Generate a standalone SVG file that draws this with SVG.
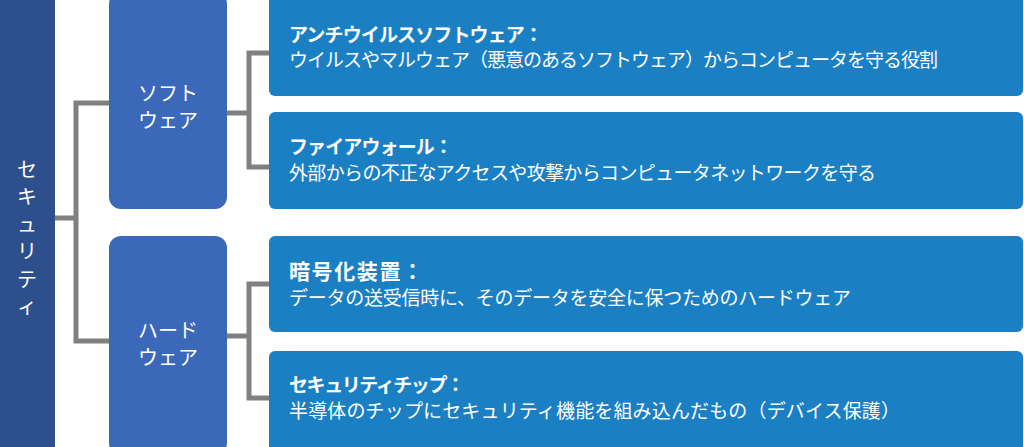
<svg xmlns="http://www.w3.org/2000/svg" width="1024" height="447" viewBox="0 0 1024 447">
<style>
text{font-family:"Noto Sans CJK JP","Noto Sans",sans-serif;fill:#ffffff;}
.root{fill:#2d4f8b;}
.mid{fill:#3b68b9;}
.leaf{fill:#1b7fc4;}
.lbl{font-size:20px;text-anchor:middle;}
.vert{font-size:20px;writing-mode:vertical-rl;text-orientation:upright;letter-spacing:7.5px;font-feature-settings:"vert" 0;}
.ttl{font-size:19px;font-weight:bold;}
.dsc{font-size:19px;}
.con{fill:none;stroke:#808080;stroke-width:5;}
</style>
<rect width="1024" height="447" fill="#ffffff"/>
<g id="connectors">
<path class="con" d="M55 218 H76 M109 103 H76 V341 H109"/>
<path class="con" d="M227 113 H249 M270 53 H249 V167 H270"/>
<path class="con" d="M227 336 H249 M270 284 H249 V398 H270"/>
</g>
<g id="security">
<rect class="root" x="0" y="-8" width="55" height="463" rx="6"/>
<text class="vert" x="27" y="159">セキュリティ</text>
</g>
<g id="software">
<rect class="mid" x="109" y="-8" width="118" height="217" rx="12"/>
<text class="lbl"><tspan x="168" y="101">ソフト</tspan><tspan x="168" y="128">ウェア</tspan></text>
</g>
<g id="hardware">
<rect class="mid" x="109" y="236" width="118" height="219" rx="12"/>
<text class="lbl"><tspan x="168" y="338">ハード</tspan><tspan x="168" y="365">ウェア</tspan></text>
</g>
<g id="antivirus">
<rect class="leaf" x="269" y="-8" width="754" height="104" rx="6"/>
<text class="ttl" x="289" y="42" textLength="254" lengthAdjust="spacing">アンチウイルスソフトウェア：</text>
<text class="dsc" x="289" y="67" textLength="649" lengthAdjust="spacing">ウイルスやマルウェア（悪意のあるソフトウェア）からコンピュータを守る役割</text>
</g>
<g id="firewall">
<rect class="leaf" x="269" y="112" width="754" height="97" rx="6"/>
<text class="ttl" x="289" y="154" textLength="164" lengthAdjust="spacing">ファイアウォール：</text>
<text class="dsc" x="289" y="180" textLength="587" lengthAdjust="spacing">外部からの不正なアクセスや攻撃からコンピュータネットワークを守る</text>
</g>
<g id="encryption">
<rect class="leaf" x="269" y="236" width="754" height="96" rx="6"/>
<text class="ttl" x="289" y="279" style="font-size:21px" textLength="134" lengthAdjust="spacing">暗号化装置：</text>
<text class="dsc" x="289" y="305" textLength="562" lengthAdjust="spacing">データの送受信時に、そのデータを安全に保つためのハードウェア</text>
</g>
<g id="chip">
<rect class="leaf" x="269" y="351" width="754" height="104" rx="6"/>
<text class="ttl" x="289" y="392" textLength="176" lengthAdjust="spacing">セキュリティチップ：</text>
<text class="dsc" x="289" y="418" textLength="611" lengthAdjust="spacing">半導体のチップにセキュリティ機能を組み込んだもの（デバイス保護）</text>
</g>
</svg>
